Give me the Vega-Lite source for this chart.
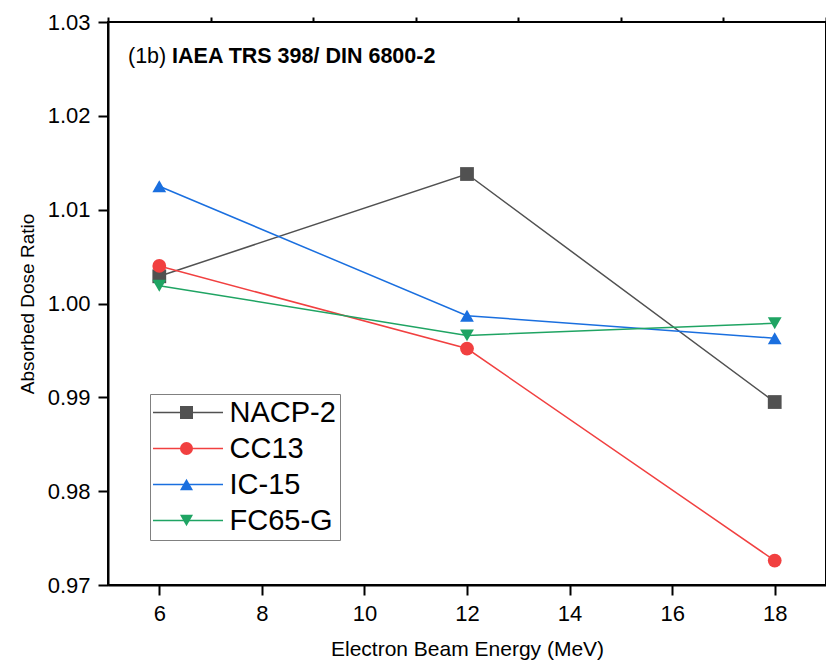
{
  "$schema": "https://vega.github.io/schema/vega-lite/v6.json",
  "autosize": {"type": "none"},
  "padding": {"left": 108, "top": 22, "right": 0, "bottom": 86},
  "width": 718,
  "height": 563,
  "background": "white",
  "config": {
    "font": "Liberation Sans",
    "view": {"stroke": "black", "strokeWidth": 2},
    "axis": {"grid": false, "domainColor": "black", "domainWidth": 2, "tickColor": "black", "tickWidth": 2, "labelColor": "black", "titleColor": "black", "titleFontWeight": "normal"}
  },
  "data": {
    "values": [
      {"energy": 6, "ratio": 1.0029, "detector": "NACP-2"},
      {"energy": 12, "ratio": 1.0138, "detector": "NACP-2"},
      {"energy": 18, "ratio": 0.9895, "detector": "NACP-2"},
      {"energy": 6, "ratio": 1.0040, "detector": "CC13"},
      {"energy": 12, "ratio": 0.9952, "detector": "CC13"},
      {"energy": 18, "ratio": 0.9726, "detector": "CC13"},
      {"energy": 6, "ratio": 1.0125, "detector": "IC-15"},
      {"energy": 12, "ratio": 0.9987, "detector": "IC-15"},
      {"energy": 18, "ratio": 0.9963, "detector": "IC-15"},
      {"energy": 6, "ratio": 1.0019, "detector": "FC65-G"},
      {"energy": 12, "ratio": 0.9966, "detector": "FC65-G"},
      {"energy": 18, "ratio": 0.9979, "detector": "FC65-G"}
    ]
  },
  "resolve": {"axis": {"x": "independent", "y": "independent"}},
  "layer": [
    {
      "mark": {"type": "line", "strokeWidth": 1.5},
      "encoding": {
        "x": {
          "field": "energy", "type": "quantitative",
          "scale": {"domain": [5, 19], "nice": false, "zero": false},
          "axis": {"values": [6, 8, 10, 12, 14, 16, 18], "tickSize": 10, "labelFontSize": 22, "labelPadding": 8, "title": "Electron Beam Energy (MeV)", "titleFontSize": 21, "titlePadding": 14}
        },
        "y": {
          "field": "ratio", "type": "quantitative",
          "scale": {"domain": [0.97, 1.03], "nice": false, "zero": false},
          "axis": {"values": [0.97, 0.98, 0.99, 1.0, 1.01, 1.02, 1.03], "format": ".2f", "tickSize": 10, "labelFontSize": 22, "labelPadding": 8, "title": "Absorbed Dose Ratio", "titleFontSize": 19, "titlePadding": 10}
        },
        "stroke": {
          "field": "detector", "type": "nominal",
          "sort": ["NACP-2", "CC13", "IC-15", "FC65-G"],
          "scale": {"range": ["#515151", "#F14040", "#1A6FDF", "#1FA463"]},
          "legend": {
            "orient": "none", "legendX": 42, "legendY": 372, "title": null,
            "symbolType": "M-5,0H5", "symbolSize": 196, "symbolStrokeWidth": 1.5, "symbolOffset": 19.5,
            "labelFontSize": 29, "labelColor": "black", "labelOffset": 27, "rowPadding": 6,
            "padding": 4, "strokeColor": "#808080", "fillColor": "white"
          }
        }
      }
    },
    {
      "mark": {"type": "point", "filled": true, "opacity": 1, "size": 190},
      "encoding": {
        "x": {
          "field": "energy", "type": "quantitative",
          "axis": {"values": [5, 7, 9, 11, 13, 15, 17, 19], "tickSize": 5, "labels": false, "domain": false, "title": null}
        },
        "y": {
          "field": "ratio", "type": "quantitative",
          "axis": {"values": [0.975, 0.985, 0.995, 1.005, 1.015, 1.025], "tickSize": 5, "labels": false, "domain": false, "title": null}
        },
        "color": {
          "field": "detector", "type": "nominal",
          "scale": {"domain": ["NACP-2", "CC13", "IC-15", "FC65-G"], "range": ["#515151", "#F14040", "#1A6FDF", "#1FA463"]},
          "legend": {
            "orient": "none", "legendX": 42, "legendY": 372, "title": null,
            "symbolSize": 170, "symbolOffset": 18, "symbolStrokeWidth": 0,
            "labelFontSize": 29, "labelOpacity": 0, "labelOffset": 8, "rowPadding": 6,
            "padding": 4
          }
        },
        "shape": {
          "field": "detector", "type": "nominal",
          "scale": {"domain": ["NACP-2", "CC13", "IC-15", "FC65-G"], "range": ["square", "circle", "triangle-up", "triangle-down"]},
          "legend": {
            "orient": "none", "legendX": 42, "legendY": 372, "title": null,
            "symbolSize": 170, "symbolOffset": 18, "symbolStrokeWidth": 0,
            "labelFontSize": 29, "labelOpacity": 0, "labelOffset": 8, "rowPadding": 6,
            "padding": 4
          }
        }
      }
    },
    {
      "data": {"values": [{"label": "(1b)"}]},
      "mark": {"type": "text", "align": "left", "baseline": "middle", "fontSize": 21.5, "color": "black"},
      "encoding": {
        "x": {"datum": 5.39, "type": "quantitative", "axis": null},
        "y": {"datum": 1.0263, "type": "quantitative", "axis": null},
        "text": {"field": "label"}
      }
    },
    {
      "data": {"values": [{"label": "IAEA TRS 398/ DIN 6800-2"}]},
      "mark": {"type": "text", "align": "left", "baseline": "middle", "fontSize": 21.5, "fontWeight": "bold", "color": "black"},
      "encoding": {
        "x": {"datum": 6.25, "type": "quantitative", "axis": null},
        "y": {"datum": 1.0263, "type": "quantitative", "axis": null},
        "text": {"field": "label"}
      }
    }
  ]
}
